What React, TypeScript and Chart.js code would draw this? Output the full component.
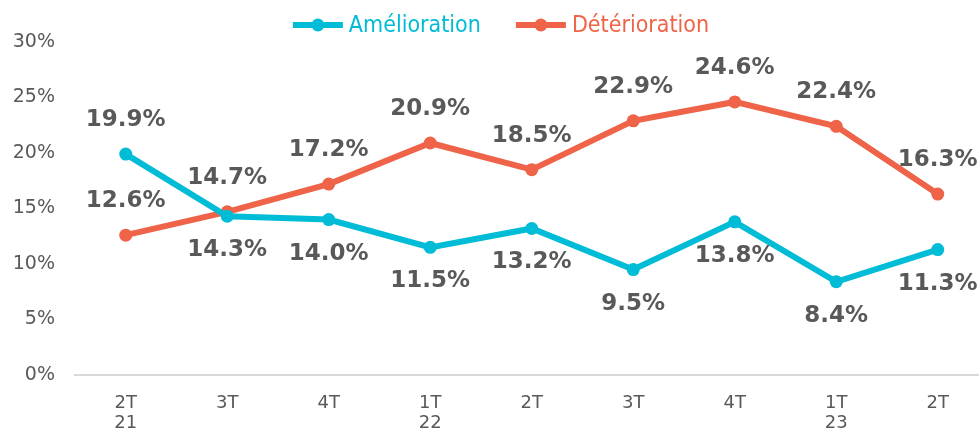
import React, { useEffect, useRef } from "react";
import { Chart, registerables } from "chart.js";

Chart.register(...registerables);

const categories: string[][] = [
  ["2T", "21"], ["3T"], ["4T"], ["1T", "22"], ["2T"], ["3T"], ["4T"], ["1T", "23"], ["2T"],
];
const amelioration = [19.9, 14.3, 14.0, 11.5, 13.2, 9.5, 13.8, 8.4, 11.3];
const deterioration = [12.6, 14.7, 17.2, 20.9, 18.5, 22.9, 24.6, 22.4, 16.3];
const ameliorationLabelPos = ["above", "below", "below", "below", "below", "below", "below", "below", "below"];
const deteriorationLabelPos = ["above", "above", "above", "above", "above", "above", "above", "above", "above"];
const yTicks = [0, 5, 10, 15, 20, 25, 30];

const CYAN = "#00BCD6";
const ORANGE = "#EF6448";
const GREY = "#595959";

const labelPlugin = {
  id: "valueLabels",
  afterDatasetsDraw(chart: any) {
    const ctx = chart.ctx;
    ctx.save();
    ctx.font = "bold 23px 'DejaVu Sans'";
    ctx.fillStyle = GREY;
    ctx.textAlign = "center";
    ctx.textBaseline = "middle";
    chart.data.datasets.forEach((ds: any, di: number) => {
      const meta = chart.getDatasetMeta(di);
      const pos = ds.labelPos as string[];
      meta.data.forEach((el: any, i: number) => {
        const v = ds.data[i];
        const off = pos[i] === "above" ? -34 : 34;
        ctx.fillText(v.toFixed(1) + "%", el.x, el.y + off);
      });
    });
    ctx.restore();
  },
};

const legendPlugin = {
  id: "customLegend",
  afterDraw(chart: any) {
    const ctx = chart.ctx;
    ctx.save();
    ctx.font = "23px 'DejaVu Sans Condensed'";
    ctx.textBaseline = "middle";
    ctx.textAlign = "left";
    const items = chart.data.datasets.map((d: any) => ({ text: d.label, color: d.borderColor }));
    const lineW = 50, gap = 6, itemGap = 35;
    let total = 0;
    items.forEach((it: any, i: number) => {
      total += lineW + gap + ctx.measureText(it.text).width + (i < items.length - 1 ? itemGap : 0);
    });
    let x = 501 - total / 2;
    const y = 25;
    items.forEach((it: any) => {
      ctx.strokeStyle = it.color;
      ctx.lineWidth = 6;
      ctx.beginPath();
      ctx.moveTo(x, y);
      ctx.lineTo(x + lineW, y);
      ctx.stroke();
      ctx.fillStyle = it.color;
      ctx.beginPath();
      ctx.arc(x + lineW / 2, y, 6.5, 0, Math.PI * 2);
      ctx.fill();
      x += lineW + gap;
      ctx.fillText(it.text, x, y + 1);
      x += ctx.measureText(it.text).width + itemGap;
    });
    ctx.restore();
  },
};

export default function App() {
  const ref = useRef<HTMLCanvasElement | null>(null);
  useEffect(() => {
    if (!ref.current) return;
    const chart = new Chart(ref.current, {
      type: "line",
      data: {
        labels: categories,
        datasets: [
          {
            label: "Amélioration",
            data: amelioration,
            borderColor: CYAN,
            backgroundColor: CYAN,
            borderWidth: 6,
            pointRadius: 6.5,
            pointHoverRadius: 6.5,
            pointBackgroundColor: CYAN,
            pointBorderWidth: 0,
            tension: 0,
            labelPos: ameliorationLabelPos,
          } as any,
          {
            label: "Détérioration",
            data: deterioration,
            borderColor: ORANGE,
            backgroundColor: ORANGE,
            borderWidth: 6,
            pointRadius: 6.5,
            pointHoverRadius: 6.5,
            pointBackgroundColor: ORANGE,
            pointBorderWidth: 0,
            tension: 0,
            labelPos: deteriorationLabelPos,
          } as any,
        ],
      },
      options: {
        animation: false,
        responsive: false,
        devicePixelRatio: 1,
        layout: { padding: { top: 42, right: 2, left: 0, bottom: 0 } },
        plugins: { legend: { display: false }, tooltip: { enabled: false } },
        scales: {
          x: {
            offset: true,
            grid: { display: false, drawTicks: false },
            border: { display: true, color: "#D9D9D9", width: 2 },
            ticks: {
              color: GREY,
              font: { family: "'DejaVu Sans'", size: 18, lineHeight: 1.12 },
              padding: 18,
              maxRotation: 0,
              autoSkip: false,
            },
            afterFit(scale: any) {
              scale.height = 60;
            },
          },
          y: {
            min: 0,
            max: 30,
            afterBuildTicks(scale: any) {
              scale.ticks = yTicks.map((v) => ({ value: v }));
            },
            grid: { display: false, drawTicks: false },
            border: { display: false },
            ticks: {
              color: GREY,
              font: { family: "'DejaVu Sans'", size: 19 },
              padding: 20,
              callback: (v: any) => v + "%",
            },
            afterFit(scale: any) {
              scale.width = 75;
            },
          },
        },
      },
      plugins: [labelPlugin, legendPlugin],
    });
    return () => chart.destroy();
  }, []);
  return (
    <div style={{ position: "fixed", left: 0, top: 0, width: 979, height: 435, overflow: "hidden", background: "#fff" }}>
      <canvas ref={ref} width={995} height={435} style={{ display: "block" }} />
    </div>
  );
}
